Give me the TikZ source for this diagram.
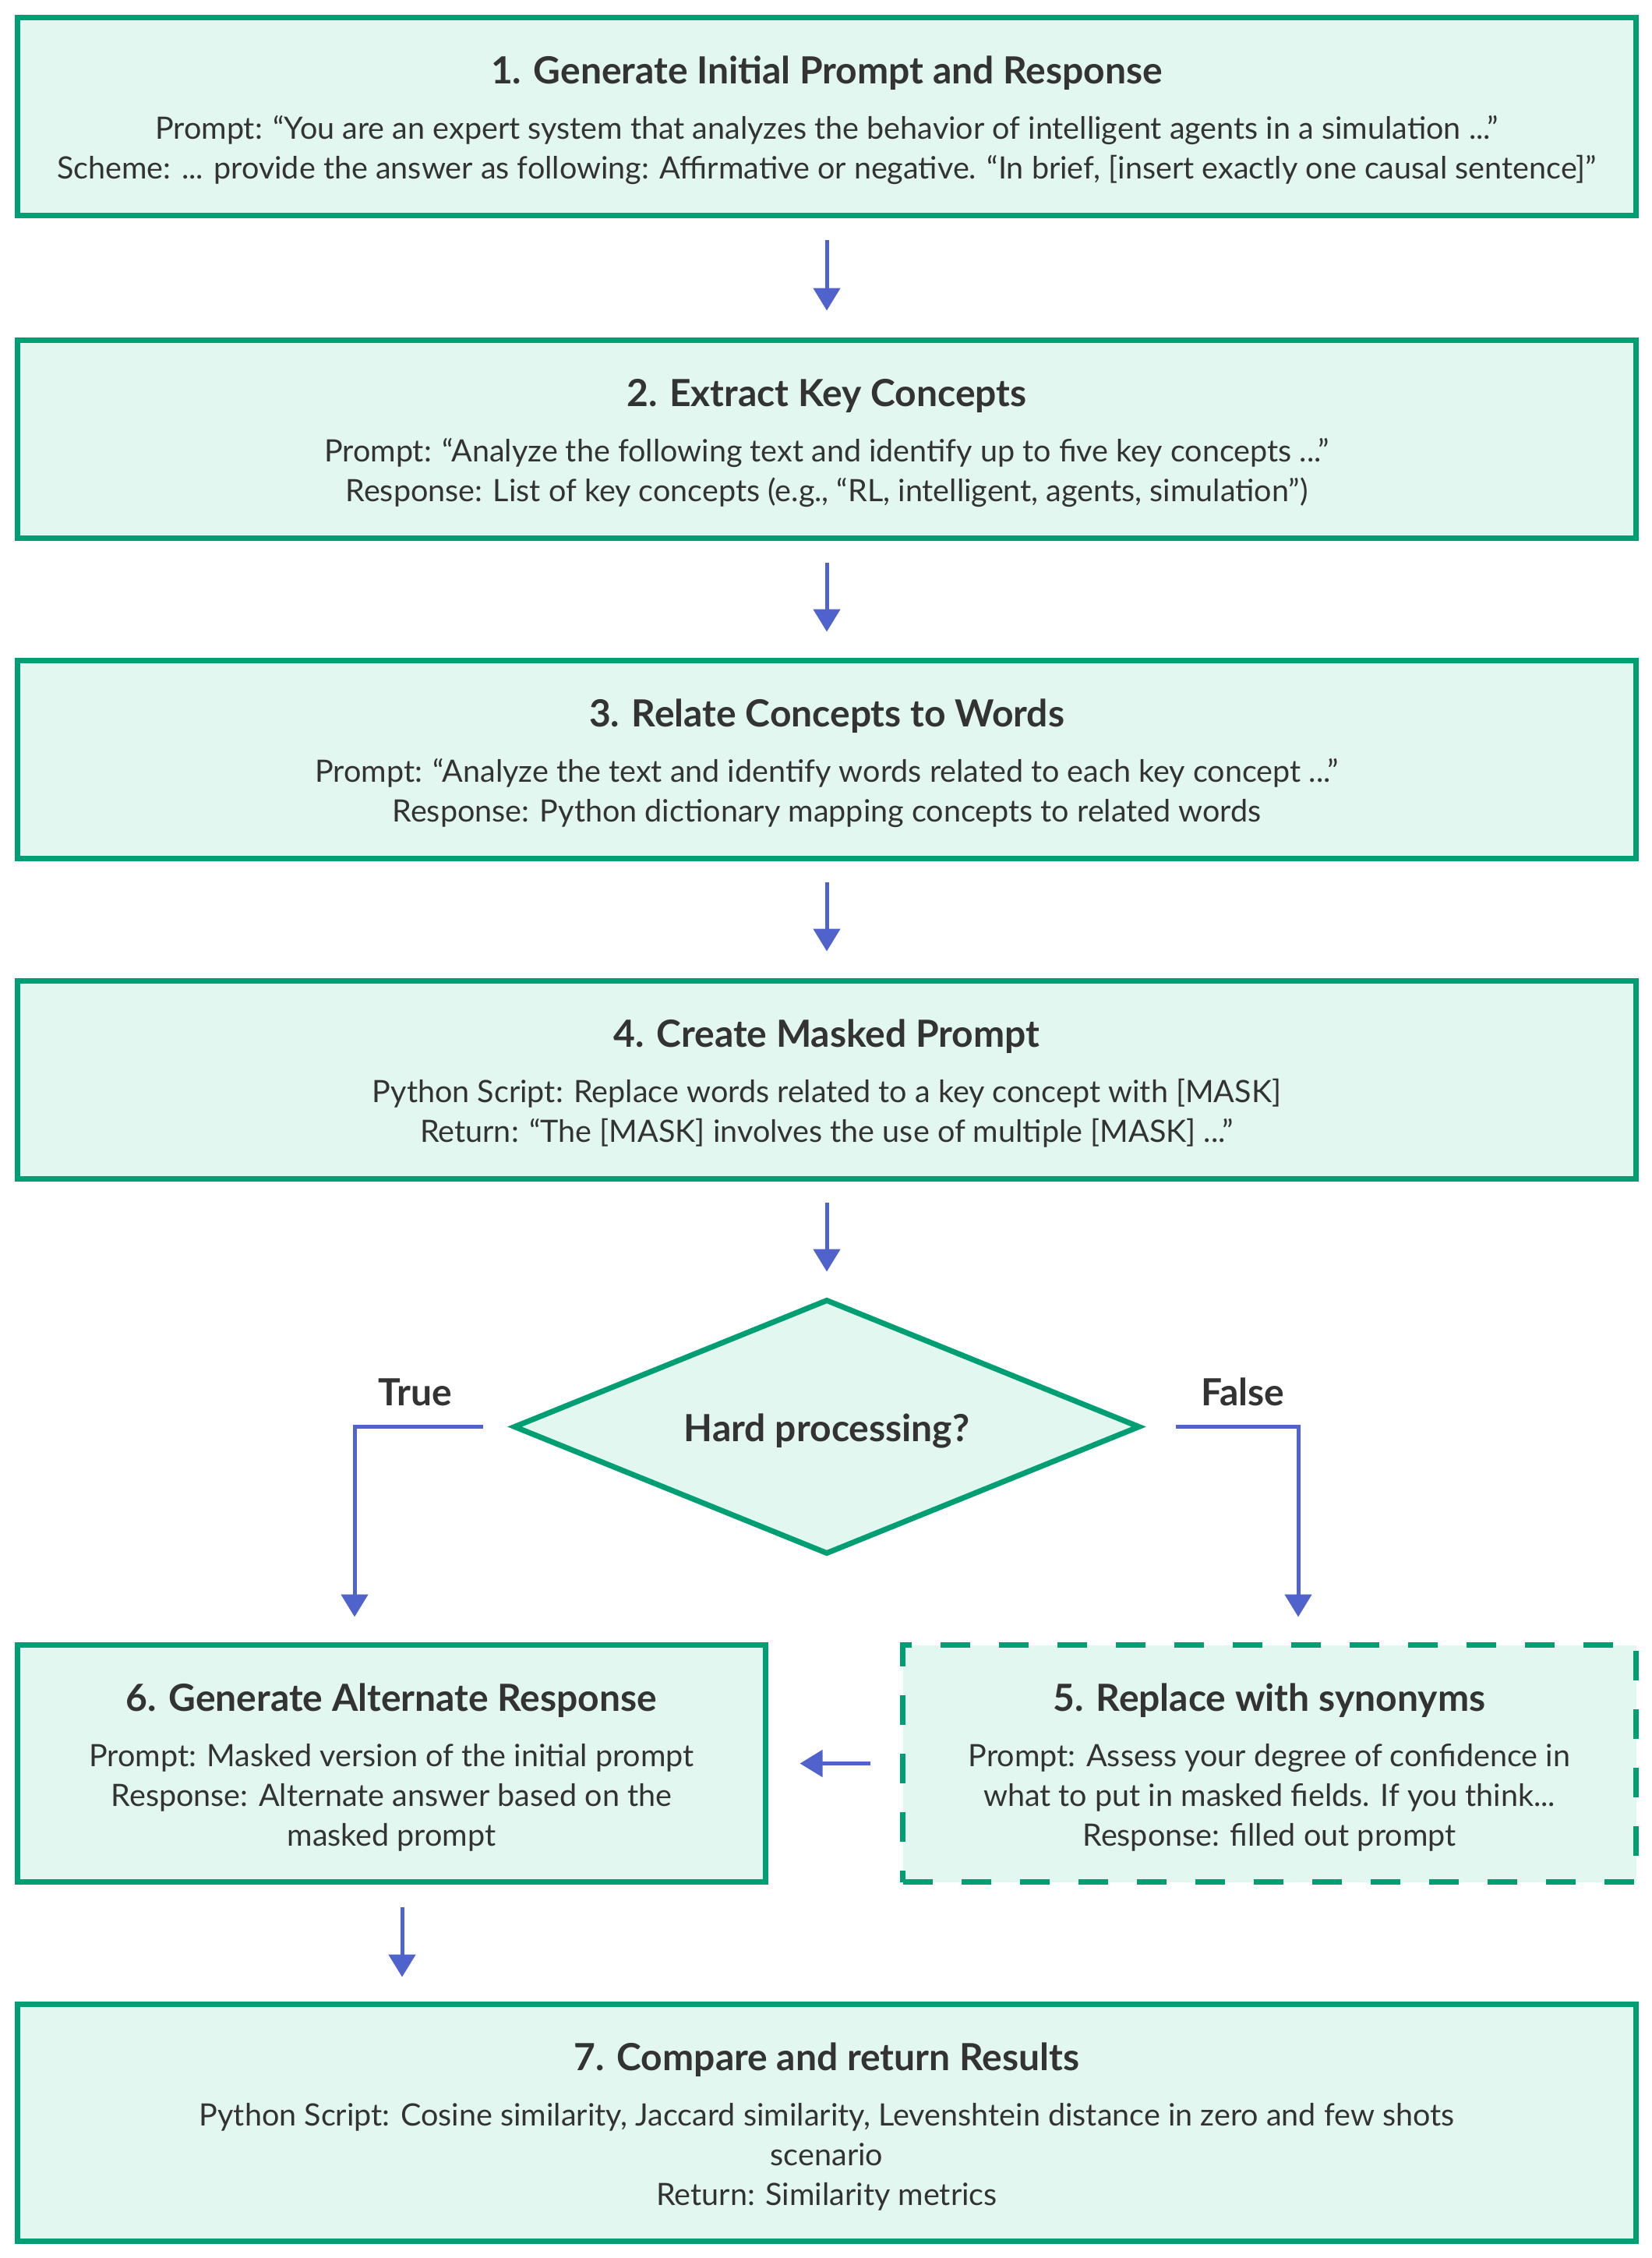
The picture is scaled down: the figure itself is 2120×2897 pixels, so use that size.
\documentclass[tikz,border=0pt]{standalone}
\usepackage{fontspec}
\setmainfont{Lato}
\usetikzlibrary{arrows.meta,shapes.geometric}
\definecolor{gborder}{HTML}{009E73}
\definecolor{gfill}{HTML}{E3F7F1}
\definecolor{arrowblue}{HTML}{5063CC}
\definecolor{txt}{HTML}{333333}
\begin{document}
\begin{tikzpicture}[x=1pt,y=-1pt,
  box/.style={draw=gborder, fill=gfill, line width=7pt, rectangle, inner sep=0pt},
  dbox/.style={box, dash pattern=on 38pt off 37pt},
  dia/.style={draw=gborder, fill=gfill, line width=7pt, diamond, inner sep=0pt, minimum width=804pt, minimum height=327pt},
  ttl/.style={anchor=base, text=txt, font=\fontsize{48}{56}\selectfont\bfseries, inner sep=0pt},
  bdy/.style={anchor=base, text=txt, font=\fontsize{39.5}{46}\selectfont, inner sep=0pt},
  arr/.style={draw=arrowblue, line width=5pt, -{Triangle[width=34pt,length=29pt]}},
]
\useasboundingbox (0,0) rectangle (2120,2897);
\fill[white] (0,0) rectangle (2120,2897);

% boxes
\node[box, minimum width=2077pt, minimum height=254pt] (b1) at (1061,149.5) {};
\node[box, minimum width=2077pt, minimum height=254pt] (b2) at (1061,563.5) {};
\node[box, minimum width=2077pt, minimum height=254pt] (b3) at (1061,974.5) {};
\node[box, minimum width=2077pt, minimum height=254pt] (b4) at (1061,1385.5) {};
\node[dia] (d) at (1061,1830.5) {};
\node[box, minimum width=960pt, minimum height=304pt] (b6) at (502.5,2262.5) {};
\node[dbox, minimum width=941pt, minimum height=304pt] (b5) at (1629,2262.5) {};
\node[box, minimum width=2077pt, minimum height=304pt] (b7) at (1061,2723.5) {};

% texts box 1
\node[ttl] (t1) at (1061,107) {1. Generate Initial Prompt and Response};
\node[bdy] (t1a) at (1061,178) {Prompt: “You are an expert system that analyzes the behavior of intelligent agents in a simulation ...”};
\node[bdy] (t1b) at (1061,229) {Scheme: ... provide the answer as following: Affirmative or negative. “In brief, [insert exactly one causal sentence]”};
% box 2
\node[ttl] (t2) at (1061,521) {2. Extract Key Concepts};
\node[bdy] (t2a) at (1061,592) {Prompt: “Analyze the following text and identify up to five key concepts ...”};
\node[bdy] (t2b) at (1061,643) {Response: List of key concepts (e.g., “RL, intelligent, agents, simulation”)};
% box 3
\node[ttl] (t3) at (1061,932) {3. Relate Concepts to Words};
\node[bdy] (t3a) at (1061,1003) {Prompt: “Analyze the text and identify words related to each key concept ...”};
\node[bdy] (t3b) at (1061,1054) {Response: Python dictionary mapping concepts to related words};
% box 4
\node[ttl] (t4) at (1061,1343) {4. Create Masked Prompt};
\node[bdy] (t4a) at (1061,1414) {Python Script: Replace words related to a key concept with [MASK]};
\node[bdy] (t4b) at (1061,1465) {Return: “The [MASK] involves the use of multiple [MASK] ...”};
% diamond
\node[ttl] (td) at (1061,1849) {Hard processing?};
\node[ttl] (ltrue) at (533,1803) {True};
\node[ttl] (lfalse) at (1595,1803) {False};
% box 6
\node[ttl] (t6) at (502.5,2195) {6. Generate Alternate Response};
\node[bdy] (t6a) at (502.5,2266) {Prompt: Masked version of the initial prompt};
\node[bdy] (t6b) at (502.5,2317) {Response: Alternate answer based on the};
\node[bdy] (t6c) at (502.5,2368) {masked prompt};
% box 5
\node[ttl] (t5) at (1629,2195) {5. Replace with synonyms};
\node[bdy] (t5a) at (1629,2266) {Prompt: Assess your degree of confidence in};
\node[bdy] (t5b) at (1629,2317) {what to put in masked fields. If you think...};
\node[bdy] (t5c) at (1629,2368) {Response: filled out prompt};
% box 7
\node[ttl] (t7) at (1061,2656) {7. Compare and return Results};
\node[bdy] (t7a) at (1061,2727) {Python Script: Cosine similarity, Jaccard similarity, Levenshtein distance in zero and few shots};
\node[bdy] (t7b) at (1061,2778) {scenario};
\node[bdy] (t7c) at (1061,2829) {Return: Similarity metrics};

% connectors
\draw[arr, shorten <=27.5pt, shorten >=34.5pt] (b1.south) -- (b2.north);
\draw[arr, shorten <=27.5pt, shorten >=33.5pt] (b2.south) -- (b3.north);
\draw[arr, shorten <=26.5pt, shorten >=34.5pt] (b3.south) -- (b4.north);
\draw[arr, shorten <=26.5pt, shorten >=32pt] (b4.south) -- (d.north);
\draw[arr] ([xshift=-36pt]d.west) -| ([xshift=-47.5pt,yshift=32.5pt]b6.north);
\draw[arr] ([xshift=42pt]d.east) -| ([xshift=37pt,yshift=32.5pt]b5.north);
\draw[arr, shorten <=38.5pt, shorten >=40.5pt] (b5.west) -- (b6.east);
\draw[arr, shorten <=28.5pt, shorten >=31.5pt] ([xshift=13.5pt]b6.south) -- ([xshift=13.5pt]b6.south |- b7.north);
\end{tikzpicture}
\end{document}
